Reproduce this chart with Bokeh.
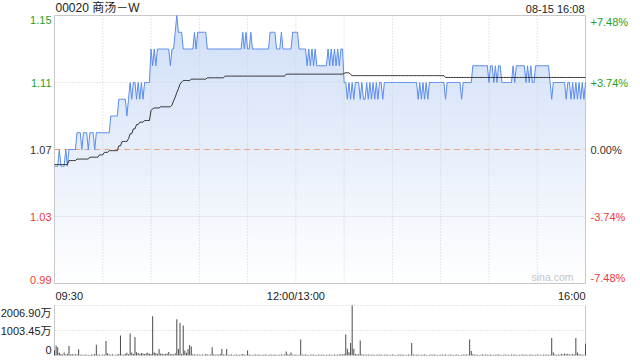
import numpy as np
from bokeh.plotting import figure
from bokeh.models import Range1d, Label
from bokeh.embed import file_html
from bokeh.resources import INLINE

# ---------------- data ----------------
title_text = "00020 商汤－W"
date_text = "08-15 16:08"
watermark = "sina.com"
prev_close = 1.07

price = [
    1.06, 1.06, 1.06, 1.07, 1.06, 1.06, 1.06, 1.07, 1.06, 1.07,
    1.07, 1.07, 1.07, 1.07, 1.08, 1.08, 1.08, 1.07, 1.08, 1.08,
    1.08, 1.07, 1.08, 1.08, 1.08, 1.07, 1.08, 1.08, 1.08, 1.08,
    1.08, 1.08, 1.08, 1.08, 1.08, 1.09, 1.09, 1.09, 1.09, 1.09,
    1.10, 1.10, 1.10, 1.10, 1.10, 1.09, 1.10, 1.11, 1.10, 1.11,
    1.11, 1.10, 1.11, 1.10, 1.11, 1.10, 1.11, 1.11, 1.11, 1.11,
    1.13, 1.12, 1.13, 1.12, 1.13, 1.13, 1.13, 1.13, 1.13, 1.13,
    1.13, 1.13, 1.12, 1.13, 1.13, 1.14, 1.15, 1.14, 1.14, 1.14,
    1.13, 1.13, 1.13, 1.13, 1.13, 1.13, 1.13, 1.14, 1.13, 1.14,
    1.14, 1.14, 1.14, 1.14, 1.14, 1.13, 1.13, 1.13, 1.13, 1.13,
    1.13, 1.13, 1.13, 1.13, 1.13, 1.13, 1.13, 1.13, 1.13, 1.13,
    1.13, 1.13, 1.13, 1.13, 1.13, 1.13, 1.13, 1.14, 1.13, 1.14,
    1.13, 1.13, 1.14, 1.13, 1.13, 1.13, 1.13, 1.13, 1.13, 1.13,
    1.13, 1.13, 1.13, 1.13, 1.14, 1.14, 1.14, 1.14, 1.13, 1.13,
    1.13, 1.14, 1.13, 1.13, 1.13, 1.13, 1.13, 1.13, 1.14, 1.14,
    1.14, 1.14, 1.13, 1.13, 1.13, 1.13, 1.13, 1.12, 1.13, 1.12,
    1.13, 1.12, 1.13, 1.12, 1.12, 1.12, 1.12, 1.12, 1.12, 1.12,
    1.13, 1.12, 1.13, 1.12, 1.13, 1.12, 1.13, 1.12, 1.13, 1.13,
    1.11, 1.11, 1.10, 1.11, 1.10, 1.11, 1.10, 1.11, 1.11, 1.11,
    1.10, 1.11, 1.10, 1.10, 1.11, 1.10, 1.11, 1.10, 1.11, 1.10,
    1.11, 1.10, 1.11, 1.11, 1.10, 1.11, 1.11, 1.11, 1.11, 1.11,
    1.11, 1.11, 1.11, 1.11, 1.11, 1.11, 1.11, 1.11, 1.11, 1.11,
    1.11, 1.11, 1.11, 1.11, 1.11, 1.11, 1.10, 1.11, 1.10, 1.11,
    1.10, 1.11, 1.10, 1.11, 1.11, 1.11, 1.11, 1.11, 1.11, 1.11,
    1.11, 1.11, 1.11, 1.10, 1.11, 1.11, 1.11, 1.11, 1.11, 1.11,
    1.11, 1.11, 1.11, 1.10, 1.11, 1.11, 1.11, 1.11, 1.11, 1.11,
    1.12, 1.12, 1.12, 1.12, 1.12, 1.12, 1.12, 1.12, 1.12, 1.12,
    1.11, 1.12, 1.12, 1.11, 1.12, 1.11, 1.12, 1.12, 1.11, 1.11,
    1.11, 1.11, 1.11, 1.11, 1.11, 1.12, 1.11, 1.12, 1.12, 1.12,
    1.12, 1.12, 1.12, 1.11, 1.12, 1.11, 1.12, 1.11, 1.11, 1.12,
    1.12, 1.12, 1.12, 1.12, 1.12, 1.12, 1.12, 1.12, 1.11, 1.10,
    1.11, 1.11, 1.11, 1.11, 1.11, 1.11, 1.11, 1.11, 1.10, 1.11,
    1.11, 1.10, 1.11, 1.10, 1.11, 1.10, 1.11, 1.10, 1.11, 1.10,
    1.11,
]

avg_price = [
    1.0610, 1.0610, 1.0610, 1.0610, 1.0610, 1.0610, 1.0610, 1.0610, 1.0610, 1.0634,
    1.0634, 1.0634, 1.0634, 1.0634, 1.0643, 1.0643, 1.0643, 1.0643, 1.0643, 1.0643,
    1.0643, 1.0643, 1.0654, 1.0654, 1.0654, 1.0654, 1.0654, 1.0654, 1.0668, 1.0668,
    1.0668, 1.0683, 1.0683, 1.0683, 1.0693, 1.0693, 1.0693, 1.0693, 1.0693, 1.0693,
    1.0722, 1.0722, 1.0748, 1.0748, 1.0748, 1.0748, 1.0764, 1.0794, 1.0794, 1.0823,
    1.0823, 1.0849, 1.0849, 1.0863, 1.0863, 1.0863, 1.0873, 1.0873, 1.0873, 1.0873,
    1.0933, 1.0943, 1.0948, 1.0948, 1.0948, 1.0948, 1.0955, 1.0955, 1.0955, 1.0955,
    1.0955, 1.0955, 1.0955, 1.0965, 1.0990, 1.1012, 1.1040, 1.1062, 1.1090, 1.1102,
    1.1112, 1.1112, 1.1112, 1.1112, 1.1112, 1.1120, 1.1120, 1.1120, 1.1120, 1.1120,
    1.1120, 1.1120, 1.1120, 1.1120, 1.1120, 1.1128, 1.1128, 1.1128, 1.1128, 1.1128,
    1.1128, 1.1128, 1.1128, 1.1128, 1.1128, 1.1128, 1.1138, 1.1138, 1.1138, 1.1138,
    1.1138, 1.1138, 1.1138, 1.1138, 1.1138, 1.1138, 1.1138, 1.1138, 1.1138, 1.1138,
    1.1138, 1.1138, 1.1138, 1.1138, 1.1138, 1.1138, 1.1138, 1.1138, 1.1138, 1.1138,
    1.1138, 1.1138, 1.1138, 1.1138, 1.1138, 1.1138, 1.1138, 1.1138, 1.1138, 1.1138,
    1.1138, 1.1138, 1.1138, 1.1138, 1.1150, 1.1150, 1.1150, 1.1150, 1.1150, 1.1150,
    1.1150, 1.1150, 1.1150, 1.1150, 1.1150, 1.1150, 1.1150, 1.1150, 1.1150, 1.1150,
    1.1150, 1.1150, 1.1150, 1.1150, 1.1150, 1.1150, 1.1150, 1.1150, 1.1150, 1.1150,
    1.1150, 1.1150, 1.1150, 1.1150, 1.1150, 1.1150, 1.1150, 1.1150, 1.1150, 1.1150,
    1.1155, 1.1158, 1.1158, 1.1158, 1.1148, 1.1141, 1.1141, 1.1141, 1.1141, 1.1141,
    1.1141, 1.1141, 1.1141, 1.1141, 1.1141, 1.1141, 1.1141, 1.1141, 1.1141, 1.1141,
    1.1141, 1.1141, 1.1141, 1.1141, 1.1141, 1.1141, 1.1141, 1.1141, 1.1141, 1.1141,
    1.1141, 1.1141, 1.1141, 1.1141, 1.1141, 1.1141, 1.1141, 1.1141, 1.1141, 1.1141,
    1.1141, 1.1141, 1.1141, 1.1141, 1.1141, 1.1141, 1.1141, 1.1141, 1.1141, 1.1141,
    1.1141, 1.1141, 1.1141, 1.1141, 1.1141, 1.1141, 1.1141, 1.1141, 1.1141, 1.1141,
    1.1141, 1.1141, 1.1141, 1.1130, 1.1130, 1.1130, 1.1130, 1.1130, 1.1130, 1.1130,
    1.1130, 1.1130, 1.1130, 1.1130, 1.1130, 1.1130, 1.1130, 1.1130, 1.1130, 1.1130,
    1.1130, 1.1130, 1.1130, 1.1130, 1.1130, 1.1130, 1.1130, 1.1130, 1.1130, 1.1130,
    1.1130, 1.1130, 1.1130, 1.1130, 1.1130, 1.1130, 1.1130, 1.1130, 1.1130, 1.1130,
    1.1130, 1.1130, 1.1130, 1.1130, 1.1130, 1.1130, 1.1130, 1.1130, 1.1130, 1.1130,
    1.1130, 1.1130, 1.1130, 1.1130, 1.1130, 1.1130, 1.1130, 1.1130, 1.1130, 1.1130,
    1.1130, 1.1130, 1.1130, 1.1130, 1.1130, 1.1130, 1.1130, 1.1130, 1.1130, 1.1130,
    1.1130, 1.1130, 1.1130, 1.1130, 1.1130, 1.1130, 1.1130, 1.1130, 1.1130, 1.1130,
    1.1130, 1.1130, 1.1130, 1.1130, 1.1130, 1.1130, 1.1130, 1.1130, 1.1130, 1.1130,
    1.1130,
]

# volume per minute, in 万 shares
volume = [
    210, 400, 330, 110, 60, 45, 120, 40, 70, 380,
    45, 60, 35, 50, 40, 250, 30, 45, 25, 40,
    35, 30, 25, 40, 35, 60, 430, 45, 30, 25,
    40, 35, 580, 90, 40, 30, 50, 25, 35, 45,
    60, 800, 40, 30, 70, 110, 50, 880, 120, 60,
    740, 130, 100, 60, 100, 80, 60, 90, 110, 70,
    60, 1580, 120, 100, 60, 260, 80, 70, 50, 60,
    80, 140, 50, 60, 40, 90, 1450, 260, 1300, 60,
    1200, 200, 110, 260, 420, 360, 50, 40, 30, 45,
    35, 30, 40, 25, 60, 45, 30, 40, 330, 50,
    35, 40, 30, 60, 260, 45, 40, 260, 35, 30,
    40, 25, 30, 45, 35, 30, 40, 60, 35, 30,
    200, 40, 30, 25, 35, 45, 30, 40, 25, 30,
    35, 40, 30, 25, 45, 30, 35, 40, 25, 30,
    35, 45, 30, 40, 160, 50, 40, 120, 35, 30,
    40, 25, 35, 640, 45, 30, 40, 35, 25, 30,
    40, 30, 35, 25, 45, 30, 35, 40, 25, 30,
    35, 40, 30, 25, 45, 30, 35, 40, 50, 40,
    60, 840, 270, 130, 500, 2006.9, 270, 60, 45, 50,
    600, 50, 35, 40, 30, 45, 35, 30, 40, 25,
    35, 40, 30, 45, 25, 35, 40, 30, 25, 35,
    40, 30, 25, 35, 45, 30, 40, 35, 25, 30,
    40, 35, 500, 45, 30, 35, 40, 25, 30, 35,
    40, 30, 25, 35, 45, 30, 40, 35, 25, 30,
    35, 40, 30, 45, 25, 35, 40, 30, 25, 35,
    40, 30, 25, 35, 45, 30, 40, 35, 640, 180,
    50, 35, 40, 30, 25, 35, 40, 30, 45, 35,
    30, 40, 25, 35, 30, 45, 40, 30, 25, 35,
    40, 30, 35, 25, 45, 30, 40, 35, 25, 30,
    35, 40, 30, 45, 25, 35, 40, 30, 25, 35,
    40, 30, 35, 25, 45, 30, 40, 35, 30, 700,
    120, 45, 35, 40, 30, 60, 45, 80, 50, 70,
    40, 35, 60, 45, 700, 120, 50, 40, 35, 30,
    470,
]

minutes = list(range(len(price)))   # minutes of trading since 09:30

price_ticks = [1.15, 1.11, 1.07, 1.03, 0.99]
price_tick_labels = ["1.15", "1.11", "1.07", "1.03", "0.99"]
pct_tick_labels = ["+7.48%", "+3.74%", "0.00%", "-3.74%", "-7.48%"]
tick_colors = ["#1f9f1f", "#1f9f1f", "#333333", "#f03a3a", "#f03a3a"]
grid_minutes = [30, 60, 90, 120, 150, 180, 210, 240, 270, 300]
time_ticks = [0, 150, 330]
time_labels = ["09:30", "12:00/13:00", "16:00"]
vol_ticks = [2006.90, 1003.45, 0]
vol_labels = ["2006.90万", "1003.45万", "0"]

# ---------------- layout (pixels) ----------------
FONT = "Liberation Sans"
TITLE_FONT = "Liberation Sans, Noto Sans CJK SC"
W, H = 640, 360
FL, FR, FT, FB = 54, 585, 15, 283      # price panel frame
VT, VB = 305, 355                      # volume panel top / baseline
GRID_C = "#cfcfcf"
FRAME_C = "#c8c8c8"

x0, x1 = 0, 330
ylo, yhi = min(price_ticks), max(price_ticks)
vmax = max(vol_ticks)

xs = (x1 - x0) / (FR - FL)
ys = (yhi - ylo) / (FB - FT)
vs = vmax / (VB - VT)

p = figure(width=W, height=H,
           x_range=Range1d(x0 - FL * xs, x1 + (W - FR) * xs),
           y_range=Range1d(ylo - (H - FB) * ys, yhi + FT * ys),
           output_backend="svg", toolbar_location=None,
           x_axis_location=None, y_axis_location=None,
           min_border=0)
p.extra_y_ranges = {"vol": Range1d(0 - (H - VB) * vs, vmax + VT * vs)}
p.xgrid.grid_line_color = None
p.ygrid.grid_line_color = None
p.outline_line_color = None
p.background_fill_color = "white"
p.border_fill_color = "white"

# gradient fill under the price line, built from stacked bands
price_arr = np.array(price)
n_bands = 40
edges = np.linspace(ylo, yhi, n_bands + 1)
top_rgb = np.array([0xcf, 0xde, 0xf7])
bot_rgb = np.array([0xff, 0xff, 0xff])
for k in range(n_bands, 0, -1):
    t = ((edges[k - 1] + edges[k]) / 2 - ylo) / (yhi - ylo)
    rgb = (bot_rgb + (top_rgb - bot_rgb) * t).round().astype(int)
    col = "#%02x%02x%02x" % tuple(rgb)
    p.varea(x=minutes, y1=ylo, y2=np.minimum(price_arr, edges[k]), fill_color=col)

# price panel grid
p.segment(x0=grid_minutes, y0=[ylo] * len(grid_minutes), x1=grid_minutes,
          y1=[yhi] * len(grid_minutes), line_color=GRID_C, line_width=1, line_dash="1 2")
mid_ticks = price_ticks[1:-1]
p.segment(x0=[x0] * len(mid_ticks), y0=mid_ticks, x1=[x1] * len(mid_ticks), y1=mid_ticks,
          line_color=GRID_C, line_width=1, line_dash="1 2")
p.segment(x0=[x0], y0=[prev_close], x1=[x1], y1=[prev_close],
          line_color="#e8a07c", line_width=1, line_dash="5 5")
# price panel frame
p.segment(x0=[x0, x1, x0, x0], y0=[ylo, ylo, ylo, yhi],
          x1=[x0, x1, x1, x1], y1=[yhi, yhi, ylo, yhi],
          line_color=FRAME_C, line_width=1)

p.line(minutes, price, line_color="#5b8def", line_width=1)
p.line(minutes, avg_price, line_color="#333333", line_width=1)

# volume panel
p.segment(x0=[x0] * 2, y0=vol_ticks[:2], x1=[x1] * 2, y1=vol_ticks[:2],
          line_color=GRID_C, line_width=1, line_dash="1 2", y_range_name="vol")
p.segment(x0=[x0, x1], y0=[0, 0], x1=[x0, x1], y1=[vmax, vmax],
          line_color=FRAME_C, line_width=1, y_range_name="vol")
p.vbar(x=minutes, top=volume, bottom=0, width=0.62, fill_color="#4a4a4a",
       line_color=None, y_range_name="vol")


def lab(x, y, text, color, align, baseline, size="11px", xo=0, yo=0, rng="default", font=FONT):
    p.add_layout(Label(x=x, y=y, text=text, text_color=color, text_align=align,
                       text_baseline=baseline, text_font=font, text_font_size=size,
                       x_offset=xo, y_offset=yo, y_range_name=rng))


for v, t1, t2, c in zip(price_ticks, price_tick_labels, pct_tick_labels, tick_colors):
    base = "top" if v == yhi else ("bottom" if v == ylo else "middle")
    lab(x0, v, t1, c, "right", base, xo=-3)
    lab(x1, v, t2, c, "left", base, xo=5)

lab(x0, yhi, title_text, "#222222", "left", "bottom", size="12px", xo=1, yo=1, font=TITLE_FONT)
lab(x1, yhi, date_text, "#222222", "right", "bottom", size="11px", xo=-1, yo=1)
lab(x1, ylo, watermark, "#c6c6c6", "right", "bottom", size="10.5px", xo=-12, yo=1)

for tm, tl in zip(time_ticks, time_labels):
    al = "left" if tm == x0 else ("right" if tm == x1 else "center")
    lab(tm, ylo, tl, "#222222", al, "top", xo=1 if tm == x0 else 0, yo=-6)

for v, t in zip(vol_ticks, vol_labels):
    base = "top" if v == vmax else ("bottom" if v == 0 else "middle")
    yo = -1 if v == vmax else (2 if v == 0 else 0)
    lab(x0, v, t, "#222222", "right", base, xo=-3, yo=yo, rng="vol", font=TITLE_FONT)

open("out.html", "w").write(file_html(p, INLINE))
